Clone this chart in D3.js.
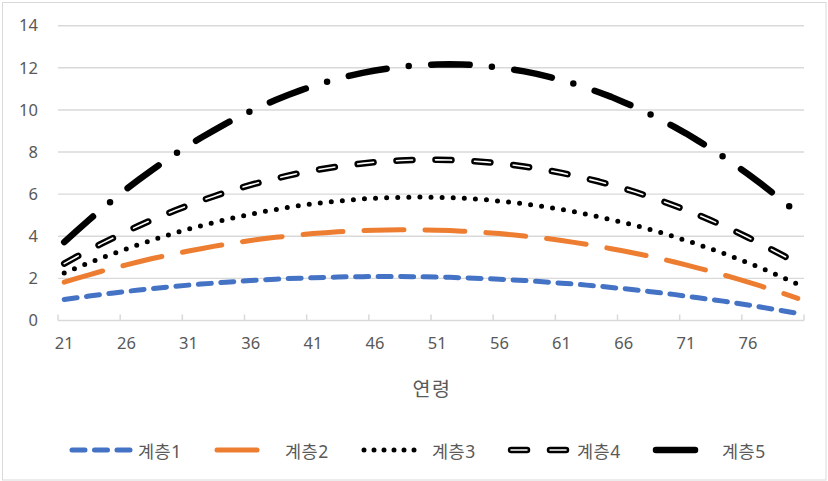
<!DOCTYPE html>
<html>
<head>
<meta charset="utf-8">
<script src="https://cdn.jsdelivr.net/npm/d3@7"></script>
<style>
  html, body { margin: 0; padding: 0; background: #ffffff; }
  svg { display: block; font-family: "Noto Sans", "Noto Sans CJK KR", sans-serif; }
</style>
</head>
<body>
<svg id="chart" width="828" height="481"></svg>
<script>
// Ages 21..80 (one category per year)
const ages = [21,22,23,24,25,26,27,28,29,30,31,32,33,34,35,36,37,38,39,40,
              41,42,43,44,45,46,47,48,49,50,51,52,53,54,55,56,57,58,59,60,
              61,62,63,64,65,66,67,68,69,70,71,72,73,74,75,76,77,78,79,80];

const tier1 = [1.00,1.08,1.16,1.24,1.31,1.38,1.45,1.51,1.57,1.63,1.68,1.73,1.77,1.82,1.86,1.90,1.93,1.96,1.99,2.01,
               2.03,2.05,2.06,2.08,2.08,2.09,2.09,2.09,2.08,2.08,2.06,2.05,2.03,2.01,1.99,1.96,1.93,1.90,1.86,1.82,
               1.77,1.73,1.68,1.63,1.57,1.51,1.45,1.38,1.31,1.24,1.16,1.08,1.00,0.92,0.83,0.74,0.64,0.54,0.44,0.34];

const tier2 = [1.82,2.00,2.17,2.34,2.49,2.64,2.79,2.93,3.06,3.18,3.30,3.41,3.52,3.62,3.71,3.80,3.88,3.95,4.01,4.07,
               4.13,4.17,4.21,4.24,4.27,4.29,4.30,4.31,4.31,4.30,4.29,4.27,4.24,4.21,4.17,4.13,4.07,4.01,3.95,3.88,
               3.80,3.71,3.62,3.52,3.41,3.30,3.18,3.06,2.93,2.79,2.64,2.49,2.34,2.17,2.00,1.82,1.64,1.45,1.25,1.05];

const tier3 = [2.25,2.50,2.74,2.97,3.19,3.40,3.61,3.80,3.99,4.17,4.34,4.50,4.65,4.79,4.92,5.05,5.17,5.27,5.37,5.46,
               5.54,5.61,5.67,5.73,5.77,5.81,5.83,5.85,5.86,5.86,5.85,5.83,5.81,5.77,5.73,5.67,5.61,5.54,5.46,5.37,
               5.27,5.17,5.05,4.92,4.79,4.65,4.50,4.34,4.17,3.99,3.80,3.61,3.40,3.19,2.97,2.74,2.50,2.25,1.99,1.72];

const tier4 = [2.70,3.03,3.34,3.65,3.94,4.23,4.50,4.76,5.01,5.25,5.47,5.69,5.89,6.09,6.27,6.44,6.60,6.74,6.88,7.01,
               7.12,7.22,7.31,7.39,7.46,7.52,7.56,7.60,7.62,7.63,7.63,7.62,7.60,7.56,7.52,7.46,7.39,7.31,7.22,7.12,
               7.01,6.88,6.74,6.60,6.44,6.27,6.09,5.89,5.69,5.47,5.25,5.01,4.76,4.50,4.23,3.94,3.65,3.34,3.03,2.70];

const tier5 = [3.72,4.26,4.78,5.28,5.77,6.24,6.69,7.12,7.54,7.94,8.32,8.68,9.02,9.35,9.66,9.95,10.22,10.47,10.71,10.93,
               11.13,11.31,11.48,11.63,11.76,11.87,11.96,12.04,12.10,12.14,12.16,12.17,12.16,12.13,12.08,12.01,11.93,11.83,11.71,11.57,
               11.42,11.24,11.05,10.84,10.62,10.37,10.11,9.83,9.53,9.22,8.89,8.53,8.17,7.78,7.37,6.95,6.51,6.05,5.58,5.08];

const seriesNames = ["계층1", "계층2", "계층3", "계층4", "계층5"];
const xLabels = [21,26,31,36,41,46,51,56,61,66,71,76];
const yTicks = [0,2,4,6,8,10,12,14];
const xTitle = "연령";

// Line styles for each tier
const styles = [
  { color: "#4472C4", width: 5,   dash: "13 9.5",           cap: "round" },
  { color: "#ED7D31", width: 5,   dash: "40 21",            cap: "round" },
  { color: "#000000", width: 5,   dash: "0 11.1",           cap: "round" },
  { color: "#000000", width: 6.5, dash: "16 23",            cap: "round", double: true },
  { color: "#000000", width: 6.5, dash: "38.5 22.3 0 22.5", cap: "round" }
];

const allSeries = [tier1, tier2, tier3, tier4, tier5];

const svg = d3.select("#chart");
const W = 828, H = 481;
const plot = { left: 58, right: 804, top: 25.7, bottom: 320.5 };

// outer chart frame
svg.append("rect")
  .attr("x", 2.5).attr("y", 2.5)
  .attr("width", W - 4.5).attr("height", H - 3.5)
  .attr("fill", "#ffffff").attr("stroke", "#d9d9d9").attr("stroke-width", 1);

const x = d3.scaleBand().domain(ages).range([plot.left, plot.right]).padding(0);
const y = d3.scaleLinear().domain([0, 14]).range([plot.bottom, plot.top]);
const cx = a => x(a) + x.bandwidth() / 2;

// horizontal gridlines
svg.append("g").selectAll("line")
  .data(yTicks.filter(v => v > 0))
  .join("line")
  .attr("x1", plot.left).attr("x2", plot.right)
  .attr("y1", d => y(d)).attr("y2", d => y(d))
  .attr("stroke", "#d9d9d9").attr("stroke-width", 1.4);

// y axis labels
const yAxis = svg.append("g")
  .attr("transform", `translate(${plot.left},0)`)
  .call(d3.axisLeft(y).tickValues(yTicks).tickSize(0).tickPadding(20));
yAxis.select(".domain").remove();
yAxis.selectAll("text")
  .attr("fill", "#595959").attr("font-size", 16.5)
  .attr("font-family", "'Noto Sans', 'Noto Sans CJK KR', sans-serif");

// x axis line
svg.append("line")
  .attr("x1", plot.left).attr("x2", plot.right)
  .attr("y1", plot.bottom).attr("y2", plot.bottom)
  .attr("stroke", "#d9d9d9").attr("stroke-width", 1.5);

// category tick marks (between categories, every 5 years, plus the end)
const tickX = xLabels.map(a => x(a)).concat([plot.right]);
svg.append("g").selectAll("line")
  .data(tickX)
  .join("line")
  .attr("x1", d => d).attr("x2", d => d)
  .attr("y1", plot.bottom - 6).attr("y2", plot.bottom)
  .attr("stroke", "#d9d9d9").attr("stroke-width", 1.5);

// x axis labels
const xAxis = svg.append("g")
  .attr("transform", `translate(0,${plot.bottom})`)
  .call(d3.axisBottom(x).tickValues(xLabels).tickSize(0).tickPadding(17));
xAxis.select(".domain").remove();
xAxis.selectAll("text")
  .attr("fill", "#595959").attr("font-size", 16.5)
  .attr("font-family", "'Noto Sans', 'Noto Sans CJK KR', sans-serif");

// x axis title
svg.append("text")
  .attr("x", (plot.left + plot.right) / 2 + 1)
  .attr("y", 387)
  .attr("text-anchor", "middle")
  .attr("dominant-baseline", "central")
  .attr("fill", "#595959")
  .attr("font-size", 19.5)
  .attr("letter-spacing", 1.5)
  .attr("font-family", "'Noto Sans CJK KR', sans-serif")
  .text(xTitle);

// series lines
const line = d3.line()
  .x((d, i) => cx(ages[i]))
  .y(d => y(d))
  .curve(d3.curveLinear);

const lines = svg.append("g");
allSeries.forEach((vals, i) => {
  const s = styles[i];
  lines.append("path")
    .datum(vals)
    .attr("d", line)
    .attr("fill", "none")
    .attr("stroke", s.color)
    .attr("stroke-width", s.width)
    .attr("stroke-dasharray", s.dash)
    .attr("stroke-linecap", s.cap)
    .attr("stroke-linejoin", "round");
  if (s.double) {
    lines.append("path")
      .datum(vals)
      .attr("d", line)
      .attr("fill", "none")
      .attr("stroke", "#ffffff")
      .attr("stroke-width", 1.6)
      .attr("stroke-dasharray", s.dash)
      .attr("stroke-linecap", s.cap)
      .attr("stroke-linejoin", "round");
  }
});

// legend
const legendY = 451;
const legendItems = [
  { x1: 72,  x2: 130, tx: 138 },
  { x1: 217, x2: 258, tx: 285 },
  { x1: 364, x2: 424, tx: 432 },
  { x1: 511, x2: 566, tx: 577 },
  { x1: 656, x2: 695, tx: 722 }
];
const legendDash = ["13 9.5", "40 21", "0 10", "16 23", "40 20"];
const legend = svg.append("g");
legendItems.forEach((it, i) => {
  const s = styles[i];
  legend.append("line")
    .attr("x1", it.x1).attr("x2", it.x2)
    .attr("y1", legendY - 1).attr("y2", legendY - 1)
    .attr("stroke", s.color)
    .attr("stroke-width", s.width)
    .attr("stroke-dasharray", legendDash[i])
    .attr("stroke-linecap", s.cap);
  if (s.double) {
    legend.append("line")
      .attr("x1", it.x1).attr("x2", it.x2)
      .attr("y1", legendY - 1).attr("y2", legendY - 1)
      .attr("stroke", "#ffffff")
      .attr("stroke-width", 1.6)
      .attr("stroke-dasharray", legendDash[i])
      .attr("stroke-linecap", s.cap);
  }
  legend.append("text")
    .attr("x", it.tx).attr("y", legendY)
    .attr("dominant-baseline", "central")
    .attr("fill", "#595959")
    .attr("font-size", 17.5)
    .attr("letter-spacing", 0.5)
    .text(seriesNames[i]);
});
</script>
</body>
</html>
